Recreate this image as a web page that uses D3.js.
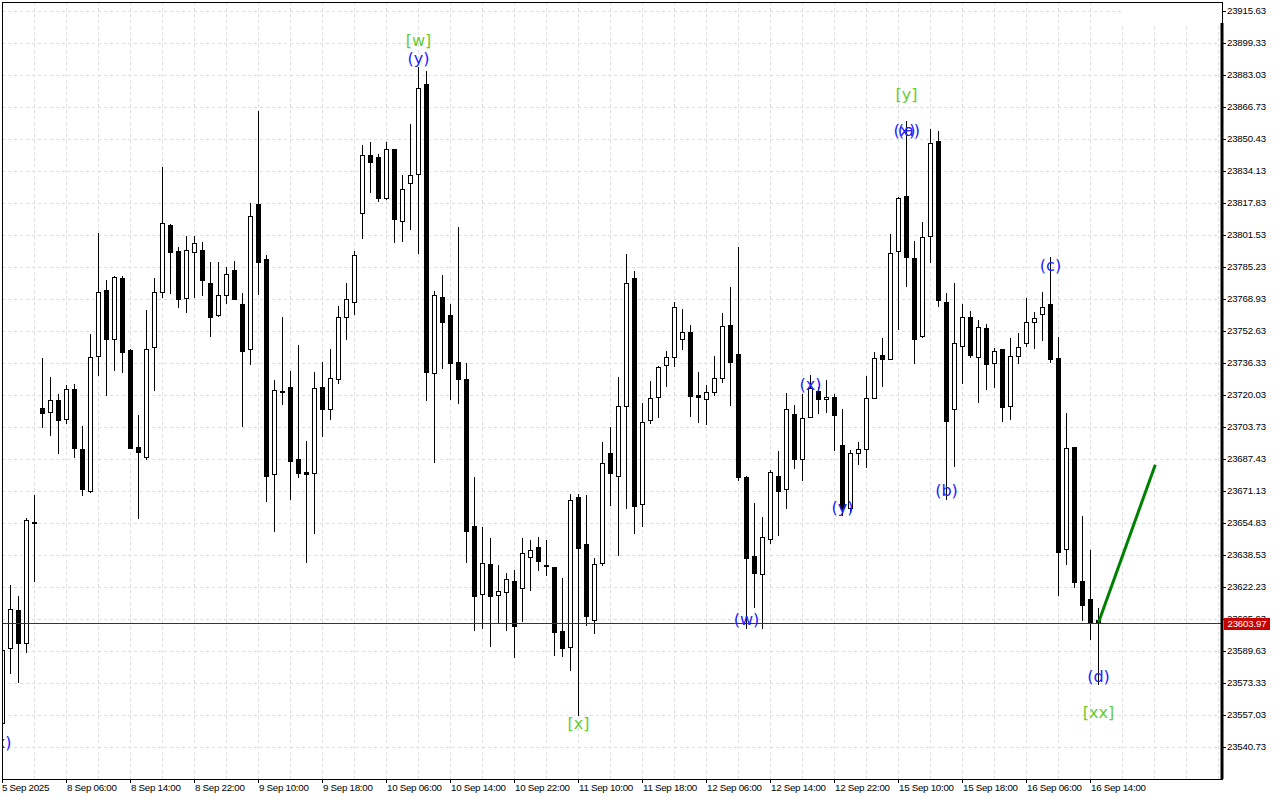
<!DOCTYPE html>
<html><head><meta charset="utf-8">
<script src="https://cdn.jsdelivr.net/npm/d3@7"></script>
<style>html,body{margin:0;padding:0;background:#fff;}svg{display:block;}</style>
</head><body>
<svg id="chart" width="1280" height="800"></svg>
<script>
// ---- data (H1 bars) ----
const opens = [23552.7,23590.8,23610.4,23593.4,23655.2,23713.1,23711.1,23717.2,23707.5,23722.8,23692.2,23671.0,23739.6,23773.4,23748.3,23779.3,23742.8,23693.5,23688.1,23744.2,23772.5,23806.3,23793.3,23769.1,23792.9,23793.7,23776.8,23760.5,23770.8,23783.5,23766.2,23743.2,23817.2,23789.2,23679.5,23722.0,23723.8,23687.1,23680.7,23680.0,23723.8,23712.6,23728.0,23759.4,23767.1,23812.4,23842.1,23841.1,23820.4,23845.0,23808.4,23827.9,23832.3,23878.1,23730.9,23769.6,23760.6,23736.5,23728.0,23653.1,23618.4,23633.6,23617.8,23619.4,23625.1,23621.7,23637.2,23642.3,23633.3,23632.1,23599.7,23591.7,23667.8,23644.0,23605.3,23634.1,23690.2,23678.6,23714.3,23779.3,23664.2,23707.1,23718.7,23735.0,23739.1,23748.3,23751.8,23719.9,23717.7,23721.3,23728.4,23755.5,23740.7,23678.3,23637.9,23628.5,23646.5,23678.6,23672.1,23710.0,23687.1,23708.5,23722.0,23717.7,23718.7,23694.4,23662.2,23690.2,23692.2,23718.2,23740.2,23738.0,23793.3,23821.4,23789.5,23749.9,23800.9,23849.3,23767.1,23712.6,23745.0,23759.4,23739.4,23753.9,23736.0,23743.2,23714.3,23739.7,23746.2,23756.9,23761.0,23766.2,23738.6,23641.3,23693.2,23625.1,23615.8,23605.3];
const highs = [23595.1,23623.1,23617.5,23657.2,23668.9,23738.6,23728.9,23720.2,23724.8,23725.3,23704.1,23750.9,23802.2,23778.4,23780.5,23780.5,23743.2,23709.7,23763.2,23779.3,23836.2,23807.0,23795.1,23801.0,23800.9,23797.8,23787.8,23787.8,23785.2,23788.1,23771.7,23817.5,23864.7,23791.2,23727.5,23759.4,23732.1,23745.3,23696.4,23731.4,23736.5,23743.2,23765.2,23777.1,23793.4,23847.2,23848.7,23842.5,23848.7,23845.2,23831.9,23857.9,23887.1,23884.9,23772.9,23781.0,23766.2,23805.6,23736.0,23677.9,23652.5,23646.9,23633.3,23629.1,23630.7,23646.9,23646.0,23647.7,23646.0,23632.3,23626.5,23669.3,23669.4,23668.9,23636.7,23695.8,23703.4,23729.2,23791.7,23783.1,23715.6,23727.0,23734.6,23742.3,23767.1,23763.5,23755.5,23731.4,23725.0,23739.7,23761.5,23774.7,23795.1,23678.6,23664.7,23657.9,23681.7,23691.4,23721.0,23714.8,23720.2,23730.1,23724.1,23727.5,23720.2,23712.6,23691.9,23696.1,23729.5,23741.9,23748.8,23801.7,23820.9,23859.4,23798.5,23807.8,23855.4,23854.4,23771.7,23776.8,23766.1,23762.7,23758.1,23755.9,23743.7,23743.3,23748.8,23751.6,23769.1,23762.0,23772.2,23790.3,23749.3,23710.6,23693.4,23658.2,23640.9,23611.2];
const lows = [23551.8,23578.4,23573.8,23589.1,23625.1,23703.7,23699.7,23690.2,23705.5,23688.5,23668.9,23670.3,23730.1,23719.9,23732.6,23731.7,23692.7,23657.1,23687.1,23722.4,23769.9,23772.0,23764.9,23762.3,23769.6,23770.8,23749.9,23760.1,23766.6,23768.6,23704.2,23735.5,23771.2,23666.0,23650.7,23715.3,23666.7,23678.3,23635.0,23649.7,23699.1,23707.5,23725.8,23748.6,23761.0,23800.0,23823.4,23818.9,23819.9,23797.7,23798.2,23804.6,23792.1,23717.3,23685.9,23733.8,23717.8,23715.9,23635.0,23600.2,23601.3,23592.0,23604.4,23600.2,23586.6,23604.9,23620.5,23630.7,23628.2,23587.4,23586.9,23579.8,23556.9,23602.7,23598.8,23633.3,23663.8,23638.4,23662.2,23649.7,23653.1,23705.5,23708.8,23724.5,23734.8,23743.2,23709.3,23706.3,23705.1,23719.7,23726.6,23714.8,23676.6,23601.0,23611.7,23601.0,23644.3,23648.6,23662.2,23682.8,23676.6,23708.5,23710.5,23711.4,23691.9,23658.7,23660.3,23684.7,23683.4,23718.2,23724.5,23738.0,23753.5,23775.4,23736.3,23749.4,23787.8,23765.2,23666.7,23683.9,23726.1,23739.1,23716.5,23722.8,23724.1,23706.8,23707.5,23736.0,23745.0,23743.7,23747.9,23736.8,23618.0,23633.6,23621.9,23605.3,23595.5,23572.7];
const closes = [23590.0,23610.7,23593.7,23656.2,23654.7,23710.9,23717.2,23707.0,23722.8,23692.7,23671.8,23739.4,23772.2,23748.6,23779.8,23741.9,23693.0,23691.0,23743.2,23772.2,23807.3,23792.6,23768.6,23793.7,23797.2,23778.4,23759.8,23770.8,23781.4,23768.6,23742.4,23811.1,23787.5,23678.6,23722.4,23721.9,23686.4,23680.0,23679.7,23723.3,23712.6,23728.4,23759.4,23768.6,23791.0,23842.1,23838.7,23820.4,23845.0,23809.4,23824.7,23831.9,23876.1,23731.7,23770.8,23757.2,23736.0,23727.9,23650.7,23617.5,23634.1,23617.5,23620.2,23626.0,23602.4,23639.2,23640.9,23635.5,23632.8,23599.3,23591.2,23666.4,23642.1,23607.5,23633.6,23685.1,23680.0,23714.4,23777.1,23663.5,23706.3,23718.2,23734.0,23739.1,23764.5,23751.8,23719.5,23718.7,23721.3,23728.4,23755.0,23736.8,23678.3,23636.7,23629.0,23647.4,23680.7,23671.1,23712.6,23687.3,23708.0,23723.3,23717.7,23718.9,23709.5,23662.3,23690.2,23692.2,23718.2,23738.6,23738.0,23792.1,23820.1,23790.3,23748.3,23800.2,23848.1,23768.3,23706.8,23746.2,23759.8,23740.2,23754.4,23735.5,23742.3,23713.6,23739.9,23744.5,23756.9,23759.3,23764.5,23738.0,23640.0,23692.7,23624.8,23612.9,23603.9,23603.97];

const priceTicks = [23915.63,23899.33,23883.03,23866.73,23850.43,23834.13,23817.83,23801.53,23785.23,23768.93,23752.63,23736.33,23720.03,23703.73,23687.43,23671.13,23654.83,23638.53,23622.23,23605.93,23589.63,23573.33,23557.03,23540.73];
const timeTickBars = [0,8,16,24,32,40,48,56,64,72,80,88,96,104,112,120,128,136];
const timeTickLabels = ["5 Sep 2025","8 Sep 06:00","8 Sep 14:00","8 Sep 22:00","9 Sep 10:00","9 Sep 18:00","10 Sep 06:00","10 Sep 14:00","10 Sep 22:00","11 Sep 10:00","11 Sep 18:00","12 Sep 06:00","12 Sep 14:00","12 Sep 22:00","15 Sep 10:00","15 Sep 18:00","16 Sep 06:00","16 Sep 14:00"];

const lastPrice = 23603.97;
const projBars = [137, 144.1];
const projPrices = [23603.97, 23684.4];

const waveText  = ["(x)","[w]","(y)","[x]","(w)","(x)","(y)","[y]","(x)","(a)","(b)","(c)","(d)","[xx]"];
const waveBar   = [-0.25,52,52,72,93,101,105,113,112.75,113.3,118,131,137,137];
const wavePrice = [23542.9,23900.7,23891.5,23552.4,23605.5,23725.1,23662.8,23873.1,23854.5,23854.5,23671.2,23785.8,23576.7,23557.9];
const waveDegree= ["minor","major","minor","major","minor","minor","minor","major","minor","minor","minor","minor","minor","major"];

// ---- layout ----
const L = 2, R = 1222, T = 2, B = 779;
const svg = d3.select("#chart");
const x = d3.scaleLinear().domain([0, 152.5]).range([2.5, 1222.5]);
const y = d3.scaleLinear().domain([23540.73, 23915.63]).range([746.7, 10.7]);
const FONT = "'Liberation Sans', Arial, sans-serif";

svg.append("defs").append("clipPath").attr("id","plot")
  .append("rect").attr("x",L).attr("y",T).attr("width",R-L).attr("height",B-T);

// grid
const grid = svg.append("g").attr("stroke","#dedede").attr("stroke-dasharray","3,3").attr("stroke-width",1);
grid.selectAll("line.h").data(priceTicks).join("line").attr("class","h")
  .attr("x1",L).attr("x2",R)
  .attr("y1",d=>Math.round(y(d))+0.5).attr("y2",d=>Math.round(y(d))+0.5);
const vBars = d3.range(4, 153, 4);
grid.selectAll("line.v").data(vBars).join("line").attr("class","v")
  .attr("x1",d=>Math.floor(x(d))+0.5).attr("x2",d=>Math.floor(x(d))+0.5)
  .attr("y1",T).attr("y2",B);
svg.append("rect").attr("x",1121).attr("y",T+1).attr("width",R-1121-1).attr("height",20).attr("fill","#fff");

// candles
const plot = svg.append("g").attr("clip-path","url(#plot)");
const idx = d3.range(opens.length);
plot.selectAll("line.wick").data(idx).join("line").attr("class","wick")
  .attr("x1",i=>Math.floor(x(i))+0.5).attr("x2",i=>Math.floor(x(i))+0.5)
  .attr("y1",i=>Math.round(y(highs[i]))).attr("y2",i=>Math.round(y(lows[i]))+1)
  .attr("stroke","#000").attr("stroke-width",1);
plot.selectAll("rect.body").data(idx).join("rect").attr("class","body")
  .each(function(i){
    const o = opens[i], c = closes[i];
    const top = Math.round(y(Math.max(o,c))), bot = Math.round(y(Math.min(o,c)));
    const cx = Math.floor(x(i));
    const s = d3.select(this);
    if (c > o) {
      s.attr("x",cx-2+0.5).attr("y",top+0.5).attr("width",4).attr("height",Math.max(bot-top,1))
       .attr("fill","#fff").attr("stroke","#000").attr("stroke-width",1);
    } else {
      s.attr("x",cx-2).attr("y",top).attr("width",5).attr("height",Math.max(bot-top+1,2))
       .attr("fill","#000");
    }
  });

// current price line
plot.append("line").attr("x1",L).attr("x2",R)
  .attr("y1",Math.round(y(lastPrice))+0.5).attr("y2",Math.round(y(lastPrice))+0.5)
  .attr("stroke","#b00000").attr("stroke-width",1);

// projection line
plot.append("path")
  .attr("d", d3.line().x(d=>x(d[0])).y(d=>y(d[1]))(projBars.map((b,i)=>[b,projPrices[i]])))
  .attr("stroke","#008000").attr("stroke-width",3).attr("fill","none");

// wave labels
plot.selectAll("text.wave").data(d3.range(waveText.length)).join("text").attr("class","wave")
  .attr("x",i=>x(waveBar[i])).attr("y",i=>y(wavePrice[i]))
  .attr("text-anchor","middle").attr("dominant-baseline","central")
  .attr("font-family","'DejaVu Sans', Verdana, sans-serif").attr("font-size",16)
  .attr("fill",i=>waveDegree[i]==="major" ? "#66cc33" : "#2020ff")
  .text(i=>waveText[i]);

// frame
svg.append("rect").attr("x",L+0.5).attr("y",T+0.5).attr("width",R-L).attr("height",B-T)
  .attr("fill","none").attr("stroke","#000").attr("stroke-width",1);
svg.append("rect").attr("x",R-1.5).attr("y",23).attr("width",3).attr("height",B-23).attr("fill","#000");

// y axis
const yAxis = svg.append("g");
yAxis.selectAll("line").data(priceTicks).join("line")
  .attr("x1",R).attr("x2",R+4)
  .attr("y1",d=>Math.round(y(d))+0.5).attr("y2",d=>Math.round(y(d))+0.5)
  .attr("stroke","#000");
yAxis.selectAll("text").data(priceTicks).join("text")
  .attr("x",R+5).attr("y",d=>y(d)).attr("dominant-baseline","central")
  .attr("font-family",FONT).attr("font-size",9.6).attr("letter-spacing",-0.15).attr("fill","#000")
  .text(d=>d.toFixed(2));

// price tag
svg.append("rect").attr("x",R+2).attr("y",Math.round(y(lastPrice))-5).attr("width",46).attr("height",12).attr("fill","#c80000");
svg.append("text").attr("x",R+5.5).attr("y",y(lastPrice)+1).attr("dominant-baseline","central")
  .attr("font-family",FONT).attr("font-size",9.6).attr("letter-spacing",-0.15).attr("fill","#fff").text(lastPrice.toFixed(2));

// x axis
const xAxis = svg.append("g");
xAxis.selectAll("line").data(timeTickBars).join("line")
  .attr("x1",d=>Math.floor(x(d))+0.5).attr("x2",d=>Math.floor(x(d))+0.5)
  .attr("y1",B).attr("y2",B+4).attr("stroke","#000");
xAxis.selectAll("text").data(timeTickBars).join("text")
  .attr("x",(d,i)=>Math.floor(x(d))+ (i===0 ? 0 : 1)).attr("y",791)
  .attr("font-family",FONT).attr("font-size",9.8).attr("letter-spacing",-0.3).attr("fill","#000")
  .text((d,i)=>timeTickLabels[i]);
</script>
</body></html>
